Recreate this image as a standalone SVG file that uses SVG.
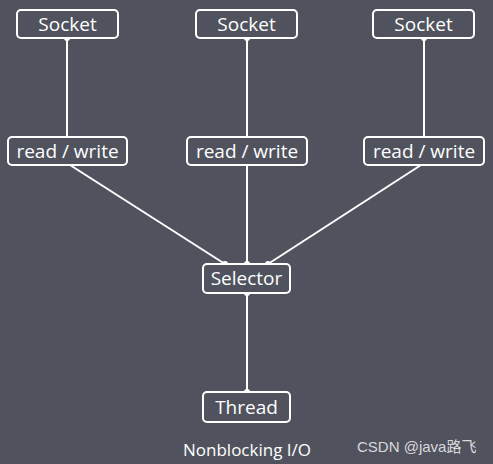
<svg xmlns="http://www.w3.org/2000/svg" width="493" height="464" viewBox="0 0 493 464">
<style>
.box{fill:#50535e;stroke:#ffffff;stroke-width:2}
.lbl{font-family:"Open Sans","Noto Sans",sans-serif;font-size:19px;fill:#ffffff;text-anchor:middle}
.ln{stroke:#ffffff;stroke-width:2;fill:none}
.dot{fill:#ffffff}
</style>
<rect width="493" height="464" fill="#50535e"/>
<g id="connectors">
<line class="ln" x1="67" y1="38" x2="67" y2="137"/>
<line class="ln" x1="247" y1="38" x2="247" y2="264"/>
<line class="ln" x1="424" y1="38" x2="424" y2="137"/>
<line class="ln" x1="70" y1="165" x2="225" y2="264"/>
<line class="ln" x1="421" y1="165" x2="268" y2="264"/>
<line class="ln" x1="247" y1="293" x2="247" y2="392"/>
<circle class="dot" cx="67" cy="38" r="3"/>
<circle class="dot" cx="247" cy="38" r="3"/>
<circle class="dot" cx="424" cy="38" r="3"/>
<circle class="dot" cx="225" cy="264" r="3"/>
<circle class="dot" cx="247" cy="264" r="3"/>
<circle class="dot" cx="268" cy="264" r="3"/>
<circle class="dot" cx="247" cy="293" r="3"/>
<circle class="dot" cx="247" cy="392" r="3"/>
</g>
<g id="socket1"><rect class="box" x="17" y="10" width="101" height="28" rx="4"/><text class="lbl" x="67.5" y="30.5">Socket</text></g>
<g id="socket2"><rect class="box" x="196" y="10" width="101" height="28" rx="4"/><text class="lbl" x="246.5" y="30.5">Socket</text></g>
<g id="socket3"><rect class="box" x="373" y="10" width="101" height="28" rx="4"/><text class="lbl" x="423.5" y="30.5">Socket</text></g>
<g id="rw1"><rect class="box" x="8" y="137" width="119" height="28" rx="4"/><text class="lbl" x="67.5" y="158">read / write</text></g>
<g id="rw2"><rect class="box" x="187" y="137" width="120" height="28" rx="4"/><text class="lbl" x="247" y="158">read / write</text></g>
<g id="rw3"><rect class="box" x="364" y="137" width="120" height="28" rx="4"/><text class="lbl" x="424" y="158">read / write</text></g>
<g id="selector"><rect class="box" x="203" y="264" width="87" height="29" rx="4"/><text class="lbl" x="246.5" y="285">Selector</text></g>
<g id="thread"><rect class="box" x="203" y="392" width="87" height="30" rx="4"/><text class="lbl" x="246.5" y="413.5">Thread</text></g>
<text x="183" y="456" style="font-family:'Open Sans','Noto Sans',sans-serif;font-size:17px;fill:#ffffff">Nonblocking I/O</text>
<text x="357" y="452" style="font-family:'Liberation Sans','Noto Sans CJK SC',sans-serif;font-size:15px;fill:#d8d8dc">CSDN @java路飞</text>
</svg>
